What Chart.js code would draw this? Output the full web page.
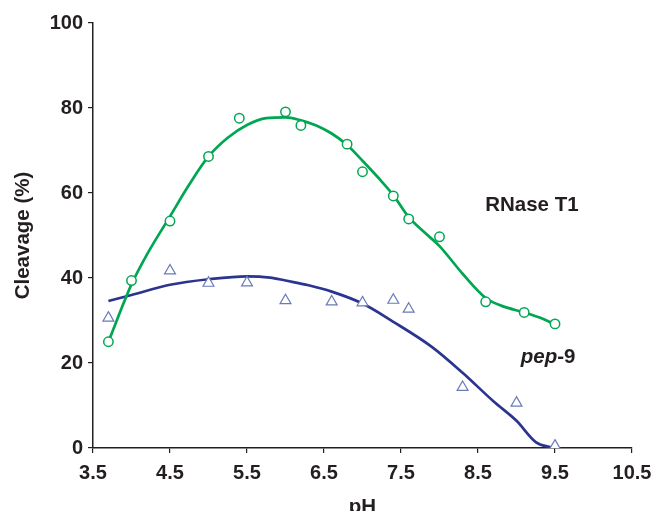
<!DOCTYPE html>
<html>
<head>
<meta charset="utf-8">
<script src="https://cdn.jsdelivr.net/npm/chart.js@4/dist/chart.umd.min.js"></script>
<style>
  html, body { margin: 0; padding: 0; background: #fff; }
  #wrap { width: 656px; height: 511px; }
</style>
</head>
<body>
<div id="wrap"><canvas id="chart" width="656" height="511"></canvas></div>
<script>
// measured points (pH, cleavage %)
const rnasePH = [3.7, 4.0, 4.5, 5.0, 5.4, 6.0, 6.2, 6.8, 7.0, 7.4, 7.6, 8.0, 8.6, 9.1, 9.5];
const rnaseCleavage = [25.0, 39.4, 53.4, 68.6, 77.6, 79.1, 75.9, 71.5, 65.0, 59.3, 53.9, 49.7, 34.4, 31.9, 29.2];

const pepPH = [3.7, 4.5, 5.0, 5.5, 6.0, 6.6, 7.0, 7.4, 7.6, 8.3, 9.0, 9.5];
const pepCleavage = [30.6, 41.7, 38.8, 38.9, 34.7, 34.4, 34.2, 34.8, 32.7, 14.3, 10.6, 0.5];

// fitted curves
const rnaseFitPH = [3.7, 4.0, 4.2, 4.5, 4.75, 5.0, 5.25, 5.5, 5.75, 6.0, 6.2, 6.4, 6.6, 6.8, 7.0, 7.2, 7.4, 7.6, 7.8, 8.0, 8.3, 8.6, 8.8, 9.1, 9.3, 9.5];
const rnaseFit = [25.0, 38.5, 45.5, 54.5, 62.0, 68.6, 73.0, 76.0, 77.6, 77.8, 77.1, 75.9, 74.0, 71.3, 67.6, 63.7, 59.5, 54.3, 50.8, 47.5, 41.0, 35.3, 33.5, 31.9, 30.7, 29.1];

const pepFitPH = [3.7, 4.0, 4.5, 5.0, 5.5, 5.8, 6.0, 6.3, 6.6, 7.0, 7.4, 7.9, 8.3, 8.7, 9.0, 9.25, 9.45];
const pepFit = [34.6, 36.0, 38.4, 39.7, 40.4, 40.1, 39.4, 38.3, 36.8, 34.0, 29.7, 23.8, 17.7, 11.0, 6.4, 1.4, 0.1];

const xTicks = [3.5, 4.5, 5.5, 6.5, 7.5, 8.5, 9.5, 10.5];

const ink = '#231f20';
const green = '#00a651';
const navy = '#2b3590';
const triBlue = '#6a7bb8';
const fontFamily = '"Liberation Sans", Arial, sans-serif';

function pts(xs, ys) {
    return xs.map((x, i) => ({ x: x, y: ys[i] }));
}

// the two curve labels, placed in data units
const curveLabels = {
    id: 'curveLabels',
    afterDatasetsDraw(chart) {
        const ctx = chart.ctx;
        const xs = chart.scales.x, ys = chart.scales.y;
        ctx.save();
        ctx.fillStyle = ink;
        ctx.textBaseline = 'middle';
        ctx.textAlign = 'center';
        ctx.font = 'bold 20.5px ' + fontFamily;
        ctx.fillText('RNase T1', xs.getPixelForValue(9.2), ys.getPixelForValue(57.1));

        // pep-9 with italic "pep"
        const px = xs.getPixelForValue(9.41), py = ys.getPixelForValue(21.3);
        ctx.font = 'italic bold 20.5px ' + fontFamily;
        const w1 = ctx.measureText('pep').width;
        ctx.font = 'bold 20.5px ' + fontFamily;
        const w2 = ctx.measureText('-9').width;
        let left = px - (w1 + w2) / 2;
        ctx.textAlign = 'left';
        ctx.font = 'italic bold 20.5px ' + fontFamily;
        ctx.fillText('pep', left, py);
        ctx.font = 'bold 20.5px ' + fontFamily;
        ctx.fillText('-9', left + w1, py);
        ctx.restore();
    }
};

new Chart(document.getElementById('chart'), {
    type: 'scatter',
    data: {
        datasets: [
            {
                label: 'RNase T1',
                data: pts(rnasePH, rnaseCleavage),
                showLine: false,
                pointStyle: 'circle',
                pointRadius: 4.7,
                pointBorderWidth: 1.5,
                pointBorderColor: green,
                pointBackgroundColor: '#fff'
            },
            {
                label: 'pep-9',
                data: pts(pepPH, pepCleavage),
                showLine: false,
                pointStyle: 'triangle',
                pointRadius: 6.3,
                pointBorderWidth: 1.2,
                pointBorderColor: triBlue,
                pointBackgroundColor: '#fff'
            },
            {
                label: 'RNase T1 fit',
                data: pts(rnaseFitPH, rnaseFit),
                showLine: true,
                borderColor: green,
                borderWidth: 2.7,
                pointRadius: 0,
                tension: 0.4,
                cubicInterpolationMode: 'monotone'
            },
            {
                label: 'pep-9 fit',
                data: pts(pepFitPH, pepFit),
                showLine: true,
                borderColor: navy,
                borderWidth: 2.7,
                pointRadius: 0,
                tension: 0.4,
                cubicInterpolationMode: 'monotone'
            }
        ]
    },
    options: {
        responsive: false,
        animation: false,
        layout: { padding: { top: 23, right: 24, left: 0, bottom: 0 } },
        plugins: {
            legend: { display: false },
            tooltip: { enabled: false }
        },
        scales: {
            x: {
                type: 'linear',
                min: 3.5,
                max: 10.5,
                afterBuildTicks(scale) {
                    scale.ticks = xTicks.map(v => ({ value: v }));
                },
                afterFit(scale) {
                    scale.height = 63;
                    scale.paddingLeft = 0;
                    scale.paddingRight = 0;
                },
                ticks: {
                    color: ink,
                    font: { family: fontFamily, size: 20, weight: 'bold' },
                    padding: 8,
                    maxRotation: 0,
                    callback: v => v.toFixed(1)
                },
                grid: {
                    drawOnChartArea: false,
                    drawTicks: true,
                    tickLength: 5,
                    color: ink,
                    lineWidth: 1.2
                },
                border: { color: ink, width: 1.5 },
                title: {
                    display: true,
                    text: 'pH',
                    color: ink,
                    font: { family: fontFamily, size: 20.5, weight: 'bold', lineHeight: 1 },
                    padding: { top: 0, bottom: -7 }
                }
            },
            y: {
                min: 0,
                max: 100,
                afterFit(scale) { scale.width = 93; },
                ticks: {
                    stepSize: 20,
                    color: ink,
                    font: { family: fontFamily, size: 20, weight: 'bold' },
                    padding: 5
                },
                grid: {
                    drawOnChartArea: false,
                    drawTicks: true,
                    tickLength: 5,
                    color: ink,
                    lineWidth: 1.2
                },
                border: { color: ink, width: 1.5 },
                title: {
                    display: true,
                    text: 'Cleavage (%)',
                    color: ink,
                    font: { family: fontFamily, size: 20.5, weight: 'bold', lineHeight: 1 },
                    padding: { top: 13, bottom: 13 }
                }
            }
        }
    },
    plugins: [curveLabels]
});
</script>
</body>
</html>
